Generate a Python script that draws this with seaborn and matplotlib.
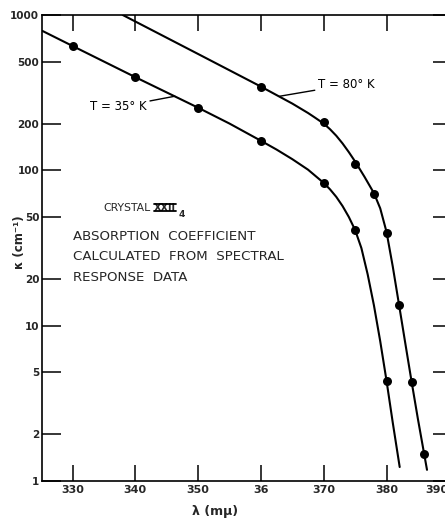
import matplotlib
matplotlib.use("Agg")
import matplotlib.pyplot as plt
from matplotlib.lines import Line2D
from matplotlib.transforms import ScaledTranslation
import seaborn as sns
import pandas as pd

# Measured absorption coefficient (cm^-1) vs wavelength (m\u03bc)
wl_35 = [330, 340, 350, 360, 370, 375, 380]
k_35 = [632, 400, 253, 155, 83, 41.3, 4.43]

wl_80 = [360, 370, 375, 378, 380, 382, 384, 386]
k_80 = [346, 206, 110, 70, 39.7, 13.6, 4.36, 1.49]

# Hand-drawn smooth curves through the measurements
curve_wl_35 = [325.2, 330, 340, 350, 355, 360, 362.5, 365, 367.5, 370, 371, 372, 373,
               374, 375, 376, 377, 378, 379, 380, 381, 382.1]
curve_k_35 = [790, 632, 398, 253, 200, 155, 136, 118, 101, 83, 75.5, 67.5, 58.9,
              50.1, 41.3, 31.6, 21.4, 13.5, 7.94, 4.43, 2.37, 1.23]

curve_wl_80 = [338.0, 350, 360, 362.5, 365, 367.5, 368.5, 370, 371, 372, 373, 374, 375,
               376.5, 378, 379, 380, 381, 382, 383, 384, 385, 386, 386.45]
curve_k_80 = [1000, 561, 346, 305, 269, 234, 220, 200, 184, 167, 149, 131, 114,
              90.8, 71.3, 56.9, 40.2, 24.0, 13.6, 7.67, 4.35, 2.51, 1.49, 1.18]

x_ticks = [330, 340, 350, 360, 370, 380, 390]
x_ticklabels = ["330", "340", "350", "36", "370", "380", "390"]
y_ticks = [1, 2, 5, 10, 20, 50, 100, 200, 500, 1000]
y_ticklabels = ["1", "2", "5", "10", "20", "50", "100", "200", "500", "1000"]

sns.set_theme(style="white")
plt.rcParams["font.family"] = ["DejaVu Sans"]

W, H = 445, 520
fig = plt.figure(figsize=(W / 100, H / 100), dpi=100)
fig.patch.set_facecolor("white")
ax = fig.add_axes([42 / W, 1 - 481 / H, (452 - 42) / W, (481 - 15) / H])
ax.set_facecolor("white")

line_kw = dict(color="black", linewidth=1.5, sort=False, estimator=None, legend=False)
sns.lineplot(x=curve_wl_35, y=curve_k_35, ax=ax, **line_kw)
sns.lineplot(x=curve_wl_80, y=curve_k_80, ax=ax, **line_kw)

pts = pd.concat([
    pd.DataFrame({"wl": wl_35, "k": k_35, "T": "35"}),
    pd.DataFrame({"wl": wl_80, "k": k_80, "T": "80"}),
])
sns.scatterplot(data=pts, x="wl", y="k", ax=ax, color="black", edgecolor="black",
                s=42, linewidth=0, zorder=3, legend=False)

ax.set_yscale("log")
ax.set_xlim(325.14, 390.43)
ax.set_ylim(1, 1000)

ax.set_xticks(x_ticks)
ax.set_xticklabels(x_ticklabels, fontsize=8, fontweight="bold")
ax.set_yticks(y_ticks)
ax.set_yticklabels(y_ticklabels, fontsize=7.5, fontweight="bold")
ax.yaxis.set_minor_locator(matplotlib.ticker.NullLocator())
ax.xaxis.set_minor_locator(matplotlib.ticker.NullLocator())

ax.tick_params(axis="x", which="major", direction="in", length=11.5, width=1.1,
               color="black", top=True, bottom=True, labeltop=False, pad=3)
ax.tick_params(axis="y", which="major", direction="in", length=14, width=1.1,
               color="black", left=True, right=True, labelright=False, pad=2)

# last wavelength label sits a little left of its tick, at the page edge
last = ax.get_xticklabels()[-1]
last.set_transform(last.get_transform() + ScaledTranslation(-12 / 100, 0, fig.dpi_scale_trans))

for side in ["left", "bottom", "top"]:
    ax.spines[side].set_visible(True)
    ax.spines[side].set_color("black")
    ax.spines[side].set_linewidth(1.2)
ax.spines["right"].set_visible(False)

ax.set_xlabel("")
ax.set_ylabel("")

# Curve labels with leader lines
ax.annotate("T = 80° K", xy=(363.0, 300), xytext=(369.1, 355), fontsize=8.5,
            va="center", ha="left", color="black",
            arrowprops=dict(arrowstyle="-", color="black", lw=1.0, shrinkA=0, shrinkB=0))
ax.annotate("T = 35° K", xy=(346.3, 300), xytext=(332.8, 256), fontsize=8.5,
            va="center", ha="left", color="black",
            arrowprops=dict(arrowstyle="-", color="black", lw=1.0, shrinkA=0, shrinkB=0))

# Description block
ax.text(334.86, 57.3, "CRYSTAL", fontsize=7.8, va="center", ha="left")
roman = ax.text(343.0, 57.3, "XXII", fontsize=7, va="center", ha="left", fontweight="bold")
ax.text(346.9, 51.6, "4", fontsize=6.5, va="center", ha="left", fontweight="bold")
ax.text(330.0, 37.3, "ABSORPTION  COEFFICIENT", fontsize=9.6, va="center", ha="left")
ax.text(330.0, 27.7, "CALCULATED  FROM  SPECTRAL", fontsize=9.6, va="center", ha="left")
ax.text(330.0, 20.3, "RESPONSE  DATA", fontsize=9.6, va="center", ha="left")

# Bars over and under the roman numeral
fig.canvas.draw()
bb = roman.get_window_extent().transformed(fig.transFigure.inverted())
for yb in (bb.y0 + 0.003, bb.y1 - 0.003):
    fig.add_artist(Line2D([bb.x0, bb.x1], [yb, yb], transform=fig.transFigure,
                          color="black", lw=1.3))

# Axis titles
fig.text(215 / W, 1 - 511 / H, "λ (mμ)", fontsize=9, fontweight="bold",
         ha="center", va="center")
fig.text(19 / W, 1 - 242 / H, "κ (cm⁻¹)", fontsize=8.5, fontweight="bold",
         rotation=90, ha="center", va="center")

fig.savefig("out.png", dpi=100, facecolor="white")
